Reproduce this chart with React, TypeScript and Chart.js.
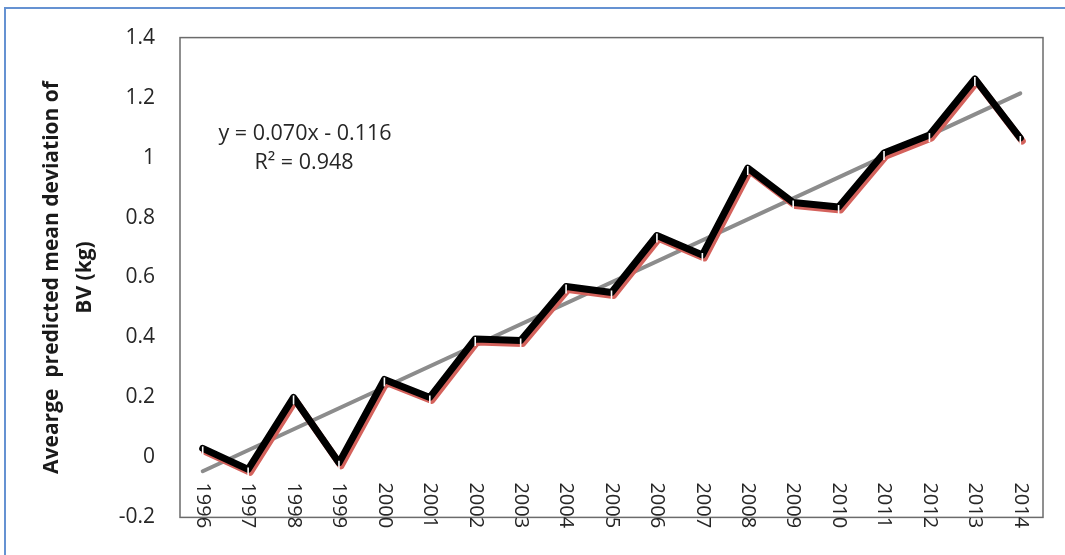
import React, { useEffect, useRef } from "react";
import { Chart, registerables } from "chart.js";

Chart.register(...registerables);

// Year categories along the horizontal axis
const YEARS = [
  "1996", "1997", "1998", "1999", "2000", "2001", "2002", "2003", "2004", "2005",
  "2006", "2007", "2008", "2009", "2010", "2011", "2012", "2013", "2014",
];

// Average predicted mean deviation of BV (kg) per year
const DEVIATION = [
  0.03, -0.04, 0.2, -0.018, 0.26, 0.2, 0.395, 0.39, 0.57, 0.55,
  0.74, 0.675, 0.965, 0.85, 0.835, 1.015, 1.075, 1.262, 1.065,
];

// Linear trend (x = 1 for the first year)
const TREND_SLOPE = 0.07;
const TREND_INTERCEPT = -0.116;
const TREND_R2 = 0.948;

const Y_TICKS = [-0.2, 0, 0.2, 0.4, 0.6, 0.8, 1, 1.2, 1.4];
const Y_TITLE = ["Avearge  predicted mean deviation of", "BV (kg)"];

const FONT = "'Open Sans', 'Liberation Sans', sans-serif";
const TEXT_COLOR = "#262626";

export default function App() {
  const canvasRef = useRef<HTMLCanvasElement | null>(null);

  useEffect(() => {
    const canvas = canvasRef.current;
    if (!canvas) return;

    const lastIdx = YEARS.length - 1;
    const trendValues = YEARS.map((_, i) =>
      i === 0 || i === lastIdx ? TREND_SLOPE * (i + 1) + TREND_INTERCEPT : null
    );

    const eqText = `y = ${TREND_SLOPE.toFixed(3)}x - ${Math.abs(TREND_INTERCEPT).toFixed(3)}`;
    const r2Text = `R\u00B2 = ${TREND_R2.toFixed(3)}`;

    // Red offset shadow under the main series line
    const shadowPlugin = {
      id: "seriesShadow",
      beforeDatasetDraw(chart: any, args: any) {
        if (args.index !== 0) return;
        const ctx = chart.ctx;
        ctx.save();
        ctx.shadowColor = "#d4625c";
        ctx.shadowOffsetX = 2;
        ctx.shadowOffsetY = 3;
        ctx.shadowBlur = 0;
      },
      afterDatasetDraw(chart: any, args: any) {
        if (args.index !== 0) return;
        chart.ctx.restore();
      },
    };

    // Plot frame, white point ticks, rotated year labels and trend equation
    const decorPlugin = {
      id: "decor",
      afterDatasetsDraw(chart: any) {
        const ctx = chart.ctx;
        const meta = chart.getDatasetMeta(0);
        ctx.save();
        ctx.strokeStyle = "#ffffff";
        ctx.lineWidth = 1.6;
        meta.data.forEach((pt: any) => {
          ctx.beginPath();
          ctx.moveTo(pt.x, pt.y - 2);
          ctx.lineTo(pt.x, pt.y + 7);
          ctx.stroke();
        });
        ctx.restore();
      },
      afterDraw(chart: any) {
        const ctx = chart.ctx;
        const { left, top, right, bottom } = chart.chartArea;
        const xScale = chart.scales.x;
        const yScale = chart.scales.y;

        ctx.save();
        ctx.strokeStyle = "#6b6b6b";
        ctx.lineWidth = 1.5;
        ctx.strokeRect(left, top, right - left, bottom - top);

        // Year labels, reading downward, just below the zero line
        const labelTop = yScale.getPixelForValue(0) + 25;
        ctx.fillStyle = TEXT_COLOR;
        ctx.font = `20px ${FONT}`;
        ctx.textAlign = "left";
        ctx.textBaseline = "middle";
        YEARS.forEach((yr, i) => {
          const x = xScale.getPixelForTick(i);
          ctx.save();
          ctx.translate(x, labelTop);
          ctx.rotate(Math.PI / 2);
          ctx.fillText(yr, 0, 0);
          ctx.restore();
        });

        // Trend equation
        ctx.font = `21.5px ${FONT}`;
        ctx.textAlign = "center";
        ctx.textBaseline = "middle";
        ctx.fillText(eqText, left + 125, top + 96);
        ctx.fillText(r2Text, left + 124, top + 125);
        ctx.restore();
      },
    };

    const chart = new Chart(canvas, {
      type: "line",
      data: {
        labels: YEARS,
        datasets: [
          {
            label: "Deviation",
            data: DEVIATION,
            borderColor: "#000000",
            borderWidth: 7,
            borderJoinStyle: "round",
            borderCapStyle: "round",
            pointRadius: 0,
            fill: false,
            tension: 0,
          },
          {
            label: "Linear trend",
            data: trendValues,
            borderColor: "#8c8c8c",
            borderWidth: 4,
            borderCapStyle: "round",
            pointRadius: 0,
            spanGaps: true,
            fill: false,
          },
        ],
      },
      options: {
        responsive: false,
        animation: false,
        layout: { padding: { left: 0, top: 35, right: 22, bottom: 32 } },
        plugins: {
          legend: { display: false },
          tooltip: { enabled: false },
          title: { display: false },
        },
        scales: {
          x: {
            type: "category",
            offset: true,
            ticks: { display: false },
            grid: { display: false, drawTicks: false },
            border: { display: false },
            afterFit: (s: any) => {
              s.height = 0;
            },
          },
          y: {
            min: -0.2,
            max: 1.4,
            afterBuildTicks: (s: any) => {
              s.ticks = Y_TICKS.map((v) => ({ value: v }));
            },
            ticks: {
              padding: 25,
              color: TEXT_COLOR,
              font: { family: FONT, size: 21 },
              callback: (v: any) => String(Math.round(Number(v) * 10) / 10),
            },
            grid: { display: false, drawTicks: false },
            border: { display: false },
            title: {
              display: true,
              text: Y_TITLE,
              color: "#1a1a1a",
              font: { family: FONT, size: 21, weight: "bold", lineHeight: 1.56 },
              padding: { top: 36, bottom: 0 },
            },
            afterFit: (s: any) => {
              s.width = 180;
            },
          },
        },
      },
      plugins: [shadowPlugin, decorPlugin],
    });

    return () => chart.destroy();
  }, []);

  return (
    <div
      style={{
        position: "fixed",
        left: 0,
        top: 0,
        width: 1065,
        height: 555,
        background: "#ffffff",
        overflow: "hidden",
      }}
    >
      <div
        style={{
          position: "absolute",
          left: 4,
          top: 7,
          width: 1100,
          height: 600,
          borderLeft: "2px solid #6592d2",
          borderTop: "2px solid #6592d2",
        }}
      />
      <canvas
        ref={canvasRef}
        width={1065}
        height={555}
        style={{ position: "absolute", left: 0, top: 0, display: "block" }}
      />
    </div>
  );
}
